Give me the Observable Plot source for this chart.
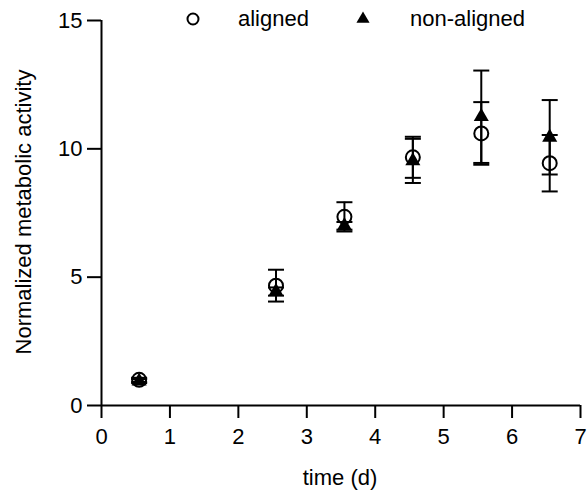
<!DOCTYPE html>
<html><head><meta charset="utf-8">
<script src="https://cdn.jsdelivr.net/npm/d3@7"></script>
<script src="https://cdn.jsdelivr.net/npm/@observablehq/plot@0.6"></script>
<style>
body{margin:0;background:#fff;font-family:Arial,"Liberation Sans",sans-serif}
#wrap{position:relative;width:587px;height:493px}
</style></head><body><div id="wrap"></div>
<script>
const days = [0.55, 2.55, 3.55, 4.55, 5.55, 6.55];
const alignedMean = [1.0, 4.67, 7.35, 9.67, 10.6, 9.44];
const alignedSD = [0.08, 0.62, 0.57, 0.8, 1.22, 1.1];
const nonAlignedMean = [0.95, 4.44, 7.0, 9.53, 11.25, 10.45];
const nonAlignedSD = [0.08, 0.16, 0.15, 0.86, 1.8, 1.45];
const xTicks = [0, 1, 2, 3, 4, 5, 6, 7];
const yTicks = [0, 5, 10, 15];
const seriesNames = ["aligned", "non-aligned"];

const rows = [];
days.forEach((d, i) => {
  rows.push({series: seriesNames[0], x: d, y: alignedMean[i], lo: alignedMean[i] - alignedSD[i], hi: alignedMean[i] + alignedSD[i]});
  rows.push({series: seriesNames[1], x: d, y: nonAlignedMean[i], lo: nonAlignedMean[i] - nonAlignedSD[i], hi: nonAlignedMean[i] + nonAlignedSD[i]});
});
const aligned = rows.filter(r => r.series === seriesNames[0]);
const nonAligned = rows.filter(r => r.series === seriesNames[1]);

const capSymbol = {draw(ctx, size) { const w = Math.sqrt(size / Math.PI); ctx.moveTo(-w, 0); ctx.lineTo(w, 0); }};
const FONT = 22;

const chart = Plot.plot({
  width: 587, height: 493,
  marginLeft: 101, marginRight: 7, marginTop: 20, marginBottom: 88,
  style: {fontFamily: 'Arial, "Liberation Sans", sans-serif', fontSize: FONT + "px", color: "#000", background: "#fff"},
  x: {domain: [0, 7], ticks: xTicks},
  y: {domain: [0, 15], ticks: yTicks},
  marks: [
    Plot.axisX({ticks: xTicks, tickSize: 13, tickPadding: 10, strokeWidth: 2, fontSize: FONT, label: null, tickFormat: d3.format("d")}),
    Plot.axisY({ticks: yTicks, tickSize: 14, tickPadding: 5, strokeWidth: 2, fontSize: FONT, label: null, tickFormat: d3.format("d")}),
    Plot.ruleY([0], {stroke: "#000", strokeWidth: 2}),
    Plot.ruleX([0], {stroke: "#000", strokeWidth: 2}),
    Plot.ruleX(rows, {x: "x", y1: "lo", y2: "hi", stroke: "#000", strokeWidth: 2}),
    Plot.dot(rows, {x: "x", y: "lo", symbol: capSymbol, r: 8, stroke: "#000", strokeWidth: 2, fill: "none"}),
    Plot.dot(rows, {x: "x", y: "hi", symbol: capSymbol, r: 8, stroke: "#000", strokeWidth: 2, fill: "none"}),
    Plot.dot(aligned, {x: "x", y: "y", symbol: "circle", r: 7, stroke: "#000", strokeWidth: 2, fill: "none"}),
    Plot.dot(nonAligned, {x: "x", y: "y", symbol: "triangle", r: 5.6, fill: "#000", stroke: "none"})
  ]
});
document.getElementById("wrap").appendChild(chart);

// axis titles and legend
const svg = d3.select(chart);
svg.append("text").attr("transform", "translate(31,212) rotate(-90)").attr("text-anchor", "middle")
  .attr("font-size", FONT).attr("fill", "#000").text("Normalized metabolic activity");
svg.append("text").attr("x", 340).attr("y", 485).attr("text-anchor", "middle")
  .attr("font-size", FONT).attr("fill", "#000").text("time (d)");
const leg = svg.append("g").attr("text-anchor", "start");
leg.append("circle").attr("cx", 193).attr("cy", 19).attr("r", 5.5).attr("fill", "none").attr("stroke", "#000").attr("stroke-width", 2);
leg.append("text").attr("x", 238).attr("y", 26).attr("text-anchor", "start").attr("font-size", FONT).attr("fill", "#000").text(seriesNames[0]);
leg.append("path").attr("d", d3.symbol(d3.symbolTriangle, 75)()).attr("transform", "translate(363,19)").attr("fill", "#000");
leg.append("text").attr("x", 410).attr("y", 26).attr("text-anchor", "start").attr("font-size", FONT).attr("fill", "#000").text(seriesNames[1]);
</script></body></html>
